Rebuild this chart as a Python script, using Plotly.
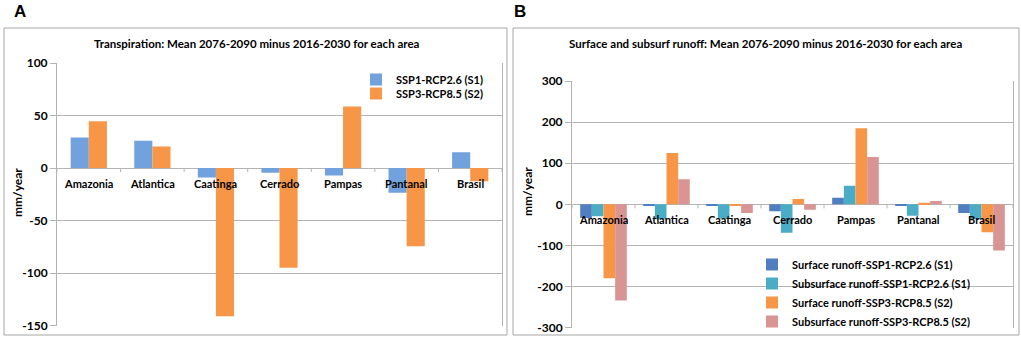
import plotly.graph_objects as go

W, H = 1021, 340

areas = ["Amazonia", "Atlantica", "Caatinga", "Cerrado", "Pampas", "Pantanal", "Brasil"]

# Panel A: transpiration change (mm/year)
transp_s1 = [29, 26, -9, -4.5, -7, -23.5, 15]
transp_s2 = [44.5, 20.5, -141, -95, 58.5, -74.5, -12.5]

# Panel B: runoff change (mm/year)
surf_s1 = [-33, -2, -3, -17, 16, -2, -21]
subsurf_s1 = [-29, -36, -35, -69, 45, -28, -36]
surf_s2 = [-180, 125, -2, 13, 185, 4, -68]
subsurf_s2 = [-234, 61, -21, -13, 115, 8, -112]

yticks_a = [-150, -100, -50, 0, 50, 100]
yticks_b = [-300, -200, -100, 0, 100, 200, 300]

title_a = "Transpiration: Mean 2076-2090 minus 2016-2030 for each area"
title_b = "Surface and subsurf runoff: Mean 2076-2090 minus 2016-2030 for each area"

FONT = "Lato"
GRID = "#B4B4B4"
BLACK = "#000000"

def px(x):
    return x / W

def py(y):
    return 1 - y / H

fig = go.Figure()

fig.add_trace(go.Bar(x=areas, y=transp_s1, name="SSP1-RCP2.6 (S1)", marker=dict(color="#72A2DE", line=dict(width=0)),
                     xaxis="x", yaxis="y", legend="legend"))
fig.add_trace(go.Bar(x=areas, y=transp_s2, name="SSP3-RCP8.5 (S2)", marker=dict(color="#F79646", line=dict(width=0)),
                     xaxis="x", yaxis="y", legend="legend3"))

fig.add_trace(go.Bar(x=areas, y=surf_s1, name="Surface runoff-SSP1-RCP2.6 (S1)", marker=dict(color="#4F7EC1", line=dict(width=0)),
                     xaxis="x2", yaxis="y2", legend="legend2"))
fig.add_trace(go.Bar(x=areas, y=subsurf_s1, name="Subsurface runoff-SSP1-RCP2.6 (S1)", marker=dict(color="#4BACC6", line=dict(width=0)),
                     xaxis="x2", yaxis="y2", legend="legend2"))
fig.add_trace(go.Bar(x=areas, y=surf_s2, name="Surface runoff-SSP3-RCP8.5 (S2)", marker=dict(color="#F79646", line=dict(width=0)),
                     xaxis="x2", yaxis="y2", legend="legend2"))
fig.add_trace(go.Bar(x=areas, y=subsurf_s2, name="Subsurface runoff-SSP3-RCP8.5 (S2)", marker=dict(color="#D99594", line=dict(width=0)),
                     xaxis="x2", yaxis="y2", legend="legend2"))

# bar widths / offsets within each category
bw_a = 0.57 / 2
for i, tr in enumerate(fig.data[:2]):
    tr.width = bw_a
    tr.offset = -0.285 + i * bw_a
bw_b = 0.74 / 4
for i, tr in enumerate(fig.data[2:]):
    tr.width = bw_b
    tr.offset = -0.37 + i * bw_b

ya_dom = [py(325.6), py(63)]
yb_dom = [py(327.7), py(81)]
ya_rng = [-150, 100]
yb_rng = [-300, 300]

tickfont = dict(family=FONT, size=12, color=BLACK, weight="bold")

xaxis_common = dict(
    type="category", showgrid=False, showline=False, zeroline=False,
    showticklabels=False, ticks="", fixedrange=True,
    range=[-0.5, len(areas) - 0.5],
)
yaxis_common = dict(
    showgrid=True, gridcolor=GRID, gridwidth=1, showline=True, linecolor=GRID, linewidth=1,
    mirror=True, zeroline=True, zerolinecolor=GRID, zerolinewidth=1,
    ticks="outside", ticklen=6, tickcolor=GRID, tickwidth=1,
    tickfont=tickfont, fixedrange=True, layer="below traces",
)

legend_font = dict(family=FONT, size=11, color=BLACK, weight="bold")

fig.update_layout(
    template="none",
    width=W, height=H,
    margin=dict(l=0, r=0, t=0, b=0, pad=0),
    paper_bgcolor="white", plot_bgcolor="white",
    barmode="group",
    font=dict(family=FONT, color=BLACK),
    xaxis=dict(domain=[px(57), px(502)], anchor="y", **xaxis_common),
    yaxis=dict(domain=ya_dom, range=ya_rng, tickvals=yticks_a, ticktext=[str(v) for v in yticks_a],
               anchor="x", **yaxis_common),
    xaxis2=dict(domain=[px(572), px(1013)], anchor="y2", **xaxis_common),
    yaxis2=dict(domain=yb_dom, range=yb_rng, tickvals=yticks_b, ticktext=[str(v) for v in yticks_b],
                anchor="x2", **yaxis_common),
    legend=dict(x=px(356), y=py(65), xanchor="left", yanchor="top", bgcolor="rgba(0,0,0,0)",
                font=legend_font, itemwidth=30, tracegroupgap=0, borderwidth=0),
    legend3=dict(x=px(356), y=py(79), xanchor="left", yanchor="top", bgcolor="rgba(0,0,0,0)",
                 font=legend_font, itemwidth=30, tracegroupgap=0, borderwidth=0),
    legend2=dict(x=px(752), y=py(250), xanchor="left", yanchor="top", bgcolor="rgba(0,0,0,0)",
                 font=legend_font, itemwidth=30, tracegroupgap=0, traceorder="normal", borderwidth=0),
    showlegend=True,
)

shapes = [
    dict(type="rect", xref="paper", yref="paper", x0=px(4), x1=px(507), y0=py(335), y1=py(28),
         line=dict(color="#A6A6A6", width=1), fillcolor="rgba(0,0,0,0)"),
    dict(type="rect", xref="paper", yref="paper", x0=px(513), x1=px(1019), y0=py(335), y1=py(28),
         line=dict(color="#A6A6A6", width=1), fillcolor="rgba(0,0,0,0)"),
]
# small category boundary ticks hanging below the zero line
for xr, yr in (("x", "y"), ("x2", "y2")):
    for k in range(len(areas) + 1):
        shapes.append(dict(type="line", xref=xr, yref=yr, x0=k - 0.5, x1=k - 0.5, y0=0, y1=-4,
                           ysizemode="pixel", yanchor=0, line=dict(color=GRID, width=1)))
fig.update_layout(shapes=shapes)

annotations = [
    dict(text="A", x=px(12), y=py(12), xref="paper", yref="paper", xanchor="left", yanchor="middle",
         showarrow=False, font=dict(family="Liberation Sans", size=17, color=BLACK, weight="bold")),
    dict(text="B", x=px(512), y=py(12), xref="paper", yref="paper", xanchor="left", yanchor="middle",
         showarrow=False, font=dict(family="Liberation Sans", size=17, color=BLACK, weight="bold")),
    dict(text=title_a, x=px(257), y=py(44), xref="paper", yref="paper", xanchor="center", yanchor="middle",
         showarrow=False, font=dict(family=FONT, size=11.5, color=BLACK, weight="bold")),
    dict(text=title_b, x=px(765), y=py(43), xref="paper", yref="paper", xanchor="center", yanchor="middle",
         showarrow=False, font=dict(family=FONT, size=11.5, color=BLACK, weight="bold")),
    dict(text="mm/year", x=px(17), y=py(193), xref="paper", yref="paper", xanchor="center", yanchor="middle",
         textangle=-90, showarrow=False, font=dict(family=FONT, size=12, color=BLACK, weight="bold")),
    dict(text="mm/year", x=px(527), y=py(192), xref="paper", yref="paper", xanchor="center", yanchor="middle",
         textangle=-90, showarrow=False, font=dict(family=FONT, size=12, color=BLACK, weight="bold")),
]
# category labels just below the zero line
for xr, yr in (("x", "y"), ("x2", "y2")):
    for a in areas:
        annotations.append(dict(text=a, x=a, y=0, xref=xr, yref=yr, xanchor="center", yanchor="top",
                                yshift=-7, showarrow=False,
                                font=dict(family=FONT, size=11, color=BLACK, weight="bold")))
fig.update_layout(annotations=annotations)

fig.write_html("out.html", config={"displayModeBar": False},
               post_script="document.body.style.margin='0';document.body.style.padding='0';")
